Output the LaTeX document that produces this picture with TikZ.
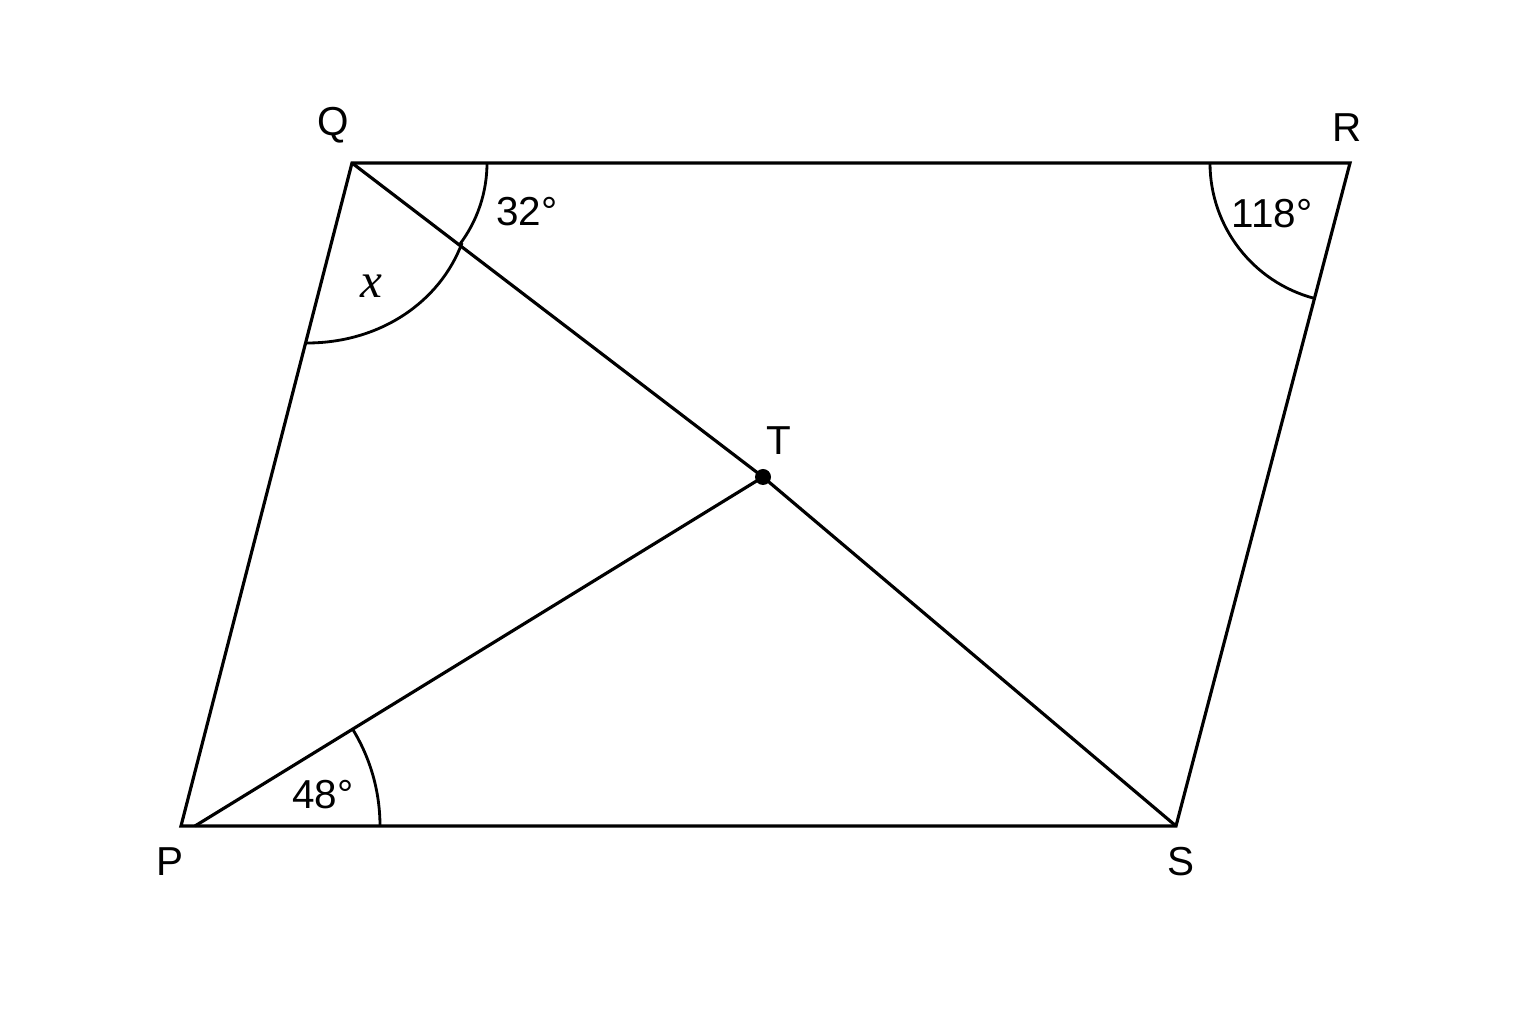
\documentclass[tikz,border=0pt]{standalone}
\usepackage{fontspec}
\setmainfont{Liberation Sans}
\newfontfamily\serifit{Liberation Serif}[ItalicFont={* Italic}]
\begin{document}
\begin{tikzpicture}[x=0.01cm,y=0.01cm,
  edge/.style={line width=0.9pt,line join=miter},
  anglearc/.style={line width=0.8pt},
  lbl/.style={font=\fontsize{11.5}{13}\selectfont,inner sep=0pt},
  anglbl/.style={font=\fontsize{11.5}{13}\selectfont,inner sep=0pt}]
\useasboundingbox (0,0) rectangle (1536,1024);
\fill[white] (0,0) rectangle (1536,1024);
% vertices
\coordinate (P) at (181,198);
\coordinate (Q) at (352,861);
\coordinate (R) at (1350,861);
\coordinate (S) at (1176,198);
\coordinate (T) at (763,547);
\coordinate (P0) at (195,198);
% sides
\draw[edge] (P) -- (Q) -- (R) -- (S) -- cycle;
\draw[edge] (Q) -- (T) -- (S);
\draw[edge] (P0) -- (T);
\fill (T) circle (8);
% angle arcs
\draw[anglearc] ([shift={(0:185)}]P0) arc[start angle=0,end angle=31.5,radius=185];
\draw[anglearc] ([shift={(0:135)}]Q) arc[start angle=0,end angle=-37.5,radius=135];
\draw[anglearc] (462,781) .. controls (440,722) and (380,681) .. (307,681);
\draw[anglearc] ([shift={(180:140)}]R) arc[start angle=180,end angle=255.2,radius=140];
% labels
\node[lbl] (lQ) at (333,899) {Q};
\node[lbl] (lR) at (1347,896) {R};
\node[lbl] (lP) at (170,162) {P};
\node[lbl] (lS) at (1181,162) {S};
\node[lbl] (lT) at (779,583) {T};
\node[anglbl] (a32) at (527,812) {32°};
\node[anglbl] (a118) at (1272,810) {118°};
\node[anglbl] (a48) at (323,229) {48°};
\node[anglbl,font=\fontsize{14}{16}\selectfont] (ax) at (371,738) {\serifit\itshape x};
\end{tikzpicture}
\end{document}
